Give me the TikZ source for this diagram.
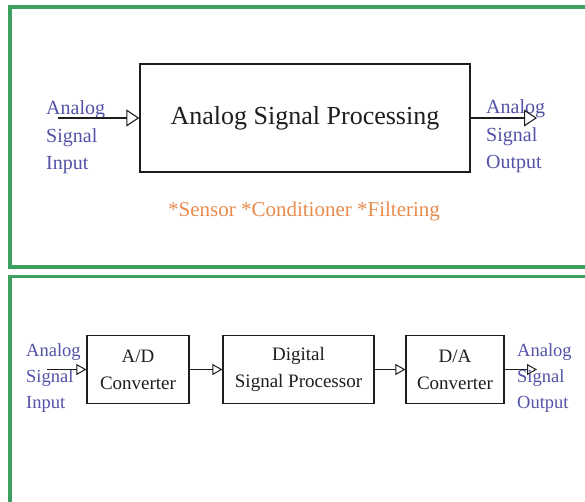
\documentclass[tikz,border=0pt]{standalone}
\usepackage{fontspec}
\setmainfont{Liberation Serif}
\usetikzlibrary{arrows.meta}
\definecolor{frameGreen}{RGB}{62,160,96}
\definecolor{labelBlue}{RGB}{82,82,168}
\definecolor{noteOrange}{RGB}{232,140,78}
\definecolor{inkDark}{RGB}{30,30,30}
\tikzset{
  panel/.style={draw=frameGreen, line width=4pt},
  bigbox/.style={draw=inkDark, line width=1.3pt, inner sep=0pt},
  smallbox/.style={draw=inkDark, line width=1.2pt, inner sep=0pt, align=center,
    font=\fontsize{19}{27}\selectfont, text=inkDark},
  toplabel/.style={text=labelBlue, inner sep=0pt, anchor=west, align=left,
    font=\fontsize{20}{27.5}\selectfont},
  botlabel/.style={text=labelBlue, inner sep=0pt, anchor=west, align=left,
    font=\fontsize{18.5}{26}\selectfont},
  bigarrow/.style={draw=inkDark, line width=1.2pt, -{Triangle[open, length=13pt, width=17pt, line width=1.1pt]}},
  smallarrow/.style={draw=inkDark, line width=1.1pt, -{Triangle[open, length=10pt, width=11pt, line width=1pt]}},
}
\begin{document}
\begin{tikzpicture}[x=1pt, y=-1pt]
\useasboundingbox (0,0) rectangle (585,501);
\fill[white] (0,0) rectangle (585,501);
\begin{scope}
\clip (0,0) rectangle (585,501);
\draw[panel] (10,7) rectangle (610,267);
\draw[panel, line width=3.5pt] (10,276.5) rectangle (610,540);
\end{scope}

% ---------- top panel ----------
\node[bigbox, minimum width=330pt, minimum height=108pt,
      font=\fontsize{26}{30}\selectfont, text=inkDark] (asp) at (305,118) {Analog Signal Processing};
\node[toplabel] (inA) at (46,137.5) {Analog\\Signal\\Input};
\node[toplabel] (outA) at (486,136.5) {Analog\\Signal\\Output};
\node[text=noteOrange, inner sep=0pt, font=\fontsize{21}{25}\selectfont] (note) at (304,211) {*Sensor *Conditioner *Filtering};
\coordinate (inAstart) at (58,118);
\coordinate (outAend) at (537,118);
\draw[bigarrow] (inAstart) -- (asp.west);
\draw[bigarrow] (asp.east) -- (outAend);

% ---------- bottom panel ----------
\node[smallbox, minimum width=102pt, minimum height=68pt] (ad) at (138,369.5) {A/D\\Converter};
\node[smallbox, minimum width=151pt, minimum height=68pt] (dsp) at (298.5,369.5) {Digital\\Signal Processor};
\node[smallbox, minimum width=98pt, minimum height=68pt] (da) at (455,369.5) {D/A\\Converter};
\node[botlabel] (inD) at (26,378.5) {Analog\\Signal\\Input};
\node[botlabel] (outD) at (517,378) {Analog\\Signal\\Output};
\coordinate (inDstart) at (47,369.5);
\coordinate (outDend) at (537,369.5);
\draw[smallarrow] (inDstart) -- (ad.west);
\draw[smallarrow] (ad.east) -- (dsp.west);
\draw[smallarrow] (dsp.east) -- (da.west);
\draw[smallarrow] (da.east) -- (outDend);
\end{tikzpicture}
\end{document}
